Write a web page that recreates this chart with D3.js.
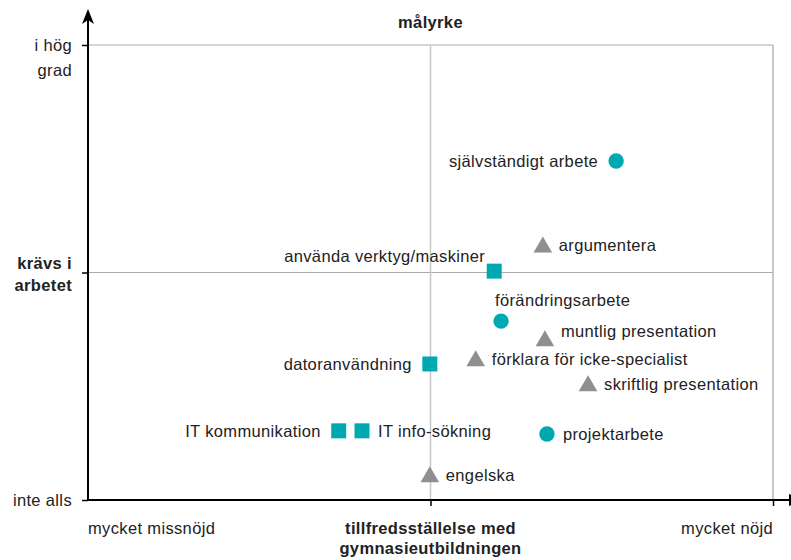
<!DOCTYPE html>
<html>
<head>
  <meta charset="UTF-8">
  <script src="https://d3js.org/d3.v7.min.js"></script>
  <title>målyrke</title>
  <style type="text/css">
    html, body { margin:0; background:#fff; }
    svg text { font-family: "Liberation Sans", Arial, sans-serif; fill:#222; letter-spacing:0.35px; }
  </style>
</head>
<body>
<div id="chart"></div>
<script>
  // skills: x = nöjdhet med utbildningen, y = krävs i arbetet (0-100)
  var skills = ["självständigt arbete", "argumentera", "använda verktyg/maskiner", "förändringsarbete",
                "muntlig presentation", "förklara för icke-specialist", "datoranvändning",
                "skriftlig presentation", "IT kommunikation", "IT info-sökning", "projektarbete", "engelska"];
  var satisfaction = [77.1, 66.4, 59.3, 60.3, 66.7, 56.6, 49.9, 73.0, 36.6, 40.0, 67.0, 49.9];
  var required     = [74.5, 56.0, 50.3, 39.3, 35.4, 31.0, 29.9, 25.5, 15.2, 15.2, 14.5, 5.5];
  var shapes       = ["circle", "triangle", "square", "circle", "triangle", "triangle", "square",
                      "triangle", "square", "square", "circle", "triangle"];

  var yTicks = [0, 50, 100];
  var yTickLabels = [["inte alls"], ["krävs i", "arbetet"], ["i hög", "grad"]];
  var xTicks = [0, 50, 100];
  var xTickLabels = [["mycket missnöjd"], ["tillfredsställelse med", "gymnasieutbildningen"], ["mycket nöjd"]];
  var title = "målyrke";

  var width = 791, height = 560;
  var margin = {top: 45, right: 18, bottom: 60, left: 88};
  var fs = 16.5;

  var svg = d3.select("#chart").append("svg")
    .attr("width", width).attr("height", height);

  var x = d3.scaleLinear().domain([0, 100]).range([margin.left, width - margin.right]);
  var y = d3.scaleLinear().domain([0, 100]).range([height - margin.bottom, margin.top]);

  var teal = "#00a9b1", grey = "#8f8f8f";

  // frame and center lines
  svg.append("line").attr("x1", x(0)).attr("x2", x(100)).attr("y1", y(100)).attr("y2", y(100))
    .attr("stroke", "#aaa").attr("stroke-width", 1);
  svg.append("line").attr("x1", x(100)).attr("x2", x(100)).attr("y1", y(100)).attr("y2", y(0))
    .attr("stroke", "#c8c8c8").attr("stroke-width", 2);
  svg.append("line").attr("x1", x(0)).attr("x2", x(100)).attr("y1", y(50)).attr("y2", y(50))
    .attr("stroke", "#aaa").attr("stroke-width", 1);
  svg.append("line").attr("x1", x(50)).attr("x2", x(50)).attr("y1", y(100)).attr("y2", y(0))
    .attr("stroke", "#c8c8c8").attr("stroke-width", 1.5);

  // y axis
  var yAxis = svg.append("g").attr("transform", "translate(" + x(0) + ",0)")
    .call(d3.axisLeft(y).tickValues(yTicks).tickSize(6).tickFormat(""));
  yAxis.select(".domain").remove();
  yAxis.selectAll(".tick line").attr("stroke", "#000").attr("stroke-width", 1.5);
  svg.append("line").attr("x1", x(0)).attr("x2", x(0)).attr("y1", y(0)).attr("y2", 20)
    .attr("stroke", "#000").attr("stroke-width", 2);
  svg.append("path").attr("d", d3.line()([[x(0) - 6, 24], [x(0), 9], [x(0) + 6, 24], [x(0), 20]]))
    .attr("fill", "#000");

  yTicks.forEach(function(t, i) {
    var lines = yTickLabels[i];
    var txt = svg.append("text").attr("text-anchor", "end")
      .attr("font-size", fs).attr("font-weight", t === 50 ? "bold" : "normal");
    var gap = t === 50 ? 22 : 25;
    var off = t === 50 ? -10 : 0;
    lines.forEach(function(l, j) {
      txt.append("tspan").attr("x", x(0) - 16)
        .attr("y", y(t) + off + j * gap + 6)
        .text(l);
    });
  });

  // x axis
  var xAxis = svg.append("g").attr("transform", "translate(0," + y(0) + ")")
    .call(d3.axisBottom(x).tickValues(xTicks.slice(1)).tickSize(6).tickFormat(""));
  xAxis.select(".domain").remove();
  xAxis.selectAll(".tick line").attr("stroke", "#000").attr("stroke-width", 1.5);
  svg.append("line").attr("x1", x(0)).attr("x2", 790).attr("y1", y(0)).attr("y2", y(0))
    .attr("stroke", "#000").attr("stroke-width", 2);
  svg.append("path").attr("d", d3.line()([[789, y(0) - 6], [804, y(0)], [789, y(0) + 6]]))
    .attr("fill", "#000");

  xTicks.forEach(function(t, i) {
    var lines = xTickLabels[i];
    var anchor = i === 0 ? "start" : (i === 1 ? "middle" : "end");
    var txt = svg.append("text").attr("text-anchor", anchor)
      .attr("font-size", fs).attr("font-weight", i === 1 ? "bold" : "normal");
    lines.forEach(function(l, j) {
      txt.append("tspan").attr("x", x(t)).attr("y", y(0) + 34 + j * 20).text(l);
    });
  });

  svg.append("text").attr("x", x(50)).attr("y", 28).attr("text-anchor", "middle")
    .attr("font-size", fs).attr("font-weight", "bold").text(title);

  // points
  var symbolType = {circle: d3.symbolCircle, square: d3.symbolSquare, triangle: d3.symbolTriangle};
  var symbolSize = {circle: 185, square: 225, triangle: 150};
  var data = skills.map(function(s, i) {
    return {name: s, x: satisfaction[i], y: required[i], shape: shapes[i]};
  });

  svg.selectAll("path.pt").data(data).enter().append("path")
    .attr("class", "pt")
    .attr("transform", function(d) {
      return "translate(" + x(d.x) + "," + (y(d.y) + (d.shape === "triangle" ? 2 : 0)) + ")";
    })
    .attr("d", function(d) { return d3.symbol(symbolType[d.shape], symbolSize[d.shape])(); })
    .attr("fill", function(d) { return d.shape === "triangle" ? grey : teal; });

  // label placement relative to the marker
  var labelSide = {
    "självständigt arbete": "left", "argumentera": "right", "använda verktyg/maskiner": "aboveLeft",
    "förändringsarbete": "above", "muntlig presentation": "aboveRight",
    "förklara för icke-specialist": "right", "datoranvändning": "left",
    "skriftlig presentation": "right", "IT kommunikation": "left", "IT info-sökning": "right",
    "projektarbete": "right", "engelska": "right"
  };

  svg.selectAll("text.lbl").data(data).enter().append("text")
    .attr("class", "lbl").attr("font-size", fs)
    .attr("x", function(d) {
      var side = labelSide[d.name], px = x(d.x);
      if (side === "left") return px - 18;
      if (side === "aboveLeft") return px - 9;
      if (side === "above") return px - 6;
      return px + 16;
    })
    .attr("y", function(d) {
      var side = labelSide[d.name], py = y(d.y);
      if (side === "aboveLeft") return py - 9;
      if (side === "above") return py - 15;
      if (side === "aboveRight") return py - 2;
      return py + 6;
    })
    .attr("text-anchor", function(d) {
      var side = labelSide[d.name];
      return (side === "left" || side === "aboveLeft") ? "end" : "start";
    })
    .text(function(d) { return d.name; });
</script>
</body>
</html>
